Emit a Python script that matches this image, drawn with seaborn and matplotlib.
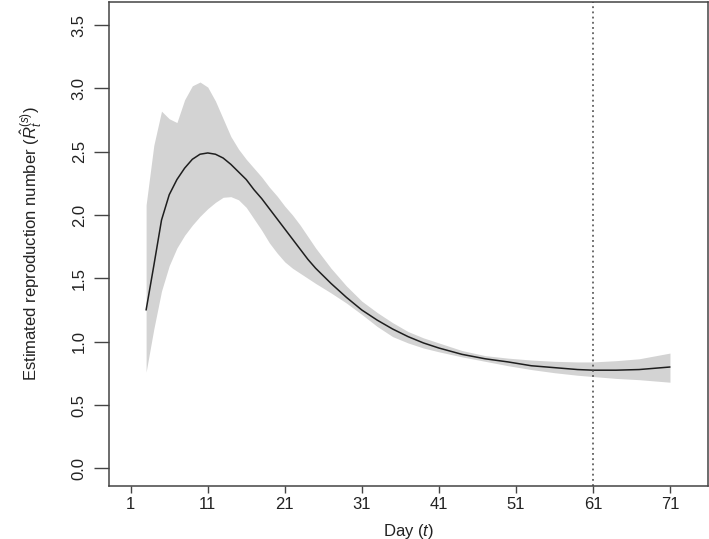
import numpy as np
import pandas as pd
import matplotlib
matplotlib.use('Agg')
import matplotlib.pyplot as plt
import seaborn as sns

# Estimated R_t with its uncertainty band
days = [3, 4, 5, 6, 7, 8, 9, 10, 11, 12, 13, 14, 15, 16, 17, 18, 19, 20, 21, 22,
        23, 24, 25, 27, 29, 31, 33, 35, 37, 39, 41, 44, 47, 50, 53, 56, 59, 61,
        64, 67, 71]
estimate = [1.25, 1.60, 1.96, 2.16, 2.28, 2.37, 2.44, 2.48, 2.49, 2.48, 2.45,
            2.40, 2.34, 2.28, 2.20, 2.13, 2.05, 1.97, 1.89, 1.81, 1.73, 1.65,
            1.58, 1.46, 1.35, 1.25, 1.17, 1.10, 1.04, 0.99, 0.95, 0.90, 0.865,
            0.84, 0.81, 0.795, 0.78, 0.775, 0.775, 0.78, 0.80]
upper = [2.08, 2.55, 2.82, 2.76, 2.73, 2.91, 3.02, 3.05, 3.01, 2.90, 2.76,
         2.62, 2.52, 2.44, 2.37, 2.30, 2.22, 2.15, 2.07, 2.00, 1.92, 1.83,
         1.74, 1.58, 1.44, 1.32, 1.23, 1.15, 1.08, 1.03, 0.99, 0.93, 0.89,
         0.87, 0.855, 0.845, 0.84, 0.84, 0.85, 0.865, 0.91]
lower = [0.76, 1.10, 1.40, 1.60, 1.74, 1.84, 1.92, 1.99, 2.05, 2.10, 2.14,
         2.145, 2.12, 2.06, 1.97, 1.88, 1.78, 1.70, 1.63, 1.58, 1.54, 1.50,
         1.46, 1.385, 1.305, 1.215, 1.12, 1.04, 0.99, 0.95, 0.92, 0.88, 0.845,
         0.81, 0.78, 0.755, 0.735, 0.725, 0.71, 0.70, 0.68]

x_ticks = [1, 11, 21, 31, 41, 51, 61, 71]
y_ticks = [0.0, 0.5, 1.0, 1.5, 2.0, 2.5, 3.0, 3.5]
cutoff_day = 61

df = pd.DataFrame({'day': days, 'est': estimate, 'lo': lower, 'hi': upper})

sns.set_style('ticks')
plt.rcParams['font.family'] = ['Liberation Sans', 'DejaVu Sans']
plt.rcParams['mathtext.fontset'] = 'custom'
plt.rcParams['mathtext.rm'] = 'Liberation Sans'
plt.rcParams['mathtext.it'] = 'Liberation Sans:italic'

fig = plt.figure(figsize=(7.09, 5.39), dpi=100)
ax = fig.add_axes([0.1537, 0.0989, 0.8445, 0.8979])

ax.fill_between(df['day'], df['lo'], df['hi'], color='#d3d3d3', linewidth=0)
sns.lineplot(data=df, x='day', y='est', ax=ax, color='#1e1e1e', linewidth=1.1)
ax.axvline(cutoff_day, color='#444444', linewidth=1.1, linestyle=(0, (1.2, 2.2)))

ax.set_xlim(-1.82, 75.9)
ax.set_ylim(-0.137, 3.684)
ax.set_xticks(x_ticks)
ax.set_xticklabels([str(t) for t in x_ticks])
ax.set_yticks(y_ticks)
ax.set_yticklabels([f'{t:.1f}' for t in y_ticks], rotation=90, va='center')

ax.tick_params(axis='x', length=5, width=1, color='#444444', pad=3, labelsize=12, labelcolor='#222222')
ax.tick_params(axis='y', length=11, width=1, color='#444444', pad=5, labelsize=12, labelcolor='#222222')
for s in ax.spines.values():
    s.set_visible(True)
    s.set_color('#444444')
    s.set_linewidth(1.1)

ax.set_xlabel('Day ($t$)', fontsize=12, color='#222222', labelpad=7)
ax.set_ylabel('Estimated reproduction number ($\\hat{R}_t^{(s)}$)', fontsize=12,
              color='#222222', labelpad=20)

fig.savefig('out.png', dpi=100)
